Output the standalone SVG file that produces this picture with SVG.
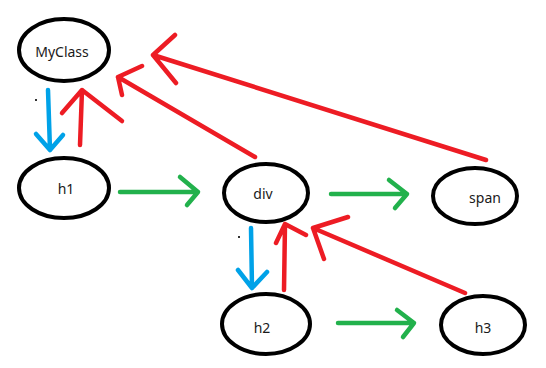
<svg xmlns="http://www.w3.org/2000/svg" width="546" height="368" viewBox="0 0 546 368">
  <style>
    .node { fill: #ffffff; stroke: #000000; stroke-width: 4; }
    .label { font-family: "Noto Sans", "Open Sans", sans-serif; font-size: 14px; fill: #1a1a1a; text-anchor: middle; }
    .line { fill: none; stroke-width: 4.5; stroke-linecap: round; stroke-linejoin: round; }
    .red { stroke: #ed1c24; }
    .green { stroke: #22b14c; }
    .blue { stroke: #00a2e8; }
  </style>
  <rect width="546" height="368" fill="#ffffff"/>

  <!-- nodes -->
  <g id="MyClass">
    <ellipse class="node" cx="64" cy="50" rx="45" ry="31"/>
    <text class="label" x="62" y="57">MyClass</text>
  </g>
  <g id="h1">
    <ellipse class="node" cx="64" cy="188" rx="45" ry="30"/>
    <text class="label" x="66" y="194">h1</text>
  </g>
  <g id="div">
    <ellipse class="node" cx="266" cy="193" rx="42" ry="29"/>
    <text class="label" x="263" y="199">div</text>
  </g>
  <g id="span">
    <ellipse class="node" cx="475" cy="196" rx="42" ry="28"/>
    <text class="label" x="485" y="203">span</text>
  </g>
  <g id="h2">
    <ellipse class="node" cx="266" cy="324" rx="44" ry="30"/>
    <text class="label" x="262" y="333">h2</text>
  </g>
  <g id="h3">
    <ellipse class="node" cx="483" cy="325" rx="42" ry="29"/>
    <text class="label" x="483" y="333">h3</text>
  </g>

  <!-- connectors -->
  <g id="connectors">
    <!-- MyClass -> h1 -->
    <path class="line blue" d="M48 90 L50 150 M36 134 L50 150 L63 135"/>
    <!-- h1 -> MyClass -->
    <path class="line red" d="M80 145 L82 90 M62 113 L82 90 L122 121"/>
    <!-- div -> MyClass -->
    <path class="line red" d="M255 157 L118 77 M142 66 L118 77 L122 95"/>
    <!-- span -> MyClass -->
    <path class="line red" d="M486 160 L153 55 M175 35 L153 55 L176 83"/>
    <!-- h1 -> div -->
    <path class="line green" d="M120 192 L198 192 M180 177 L198 192 L187 205"/>
    <!-- div -> span -->
    <path class="line green" d="M331 194 L407 194 M389 180 L407 194 L395 208"/>
    <!-- div -> h2 -->
    <path class="line blue" d="M251 228 L252 288 M238 270 L252 288 L267 272"/>
    <!-- h2 -> div -->
    <path class="line red" d="M284 290 L285 224 M276 243 L285 224 L306 235"/>
    <!-- h3 -> div -->
    <path class="line red" d="M465 293 L313 228 M348 217 L313 228 L324 259"/>
    <!-- h2 -> h3 -->
    <path class="line green" d="M338 323 L414 323 M397 310 L414 323 L403 337"/>
  </g>

  <!-- stray pen marks -->
  <rect x="35" y="99" width="2" height="2" fill="#333333"/>
  <rect x="238" y="236" width="2" height="2" fill="#333333"/>
</svg>
